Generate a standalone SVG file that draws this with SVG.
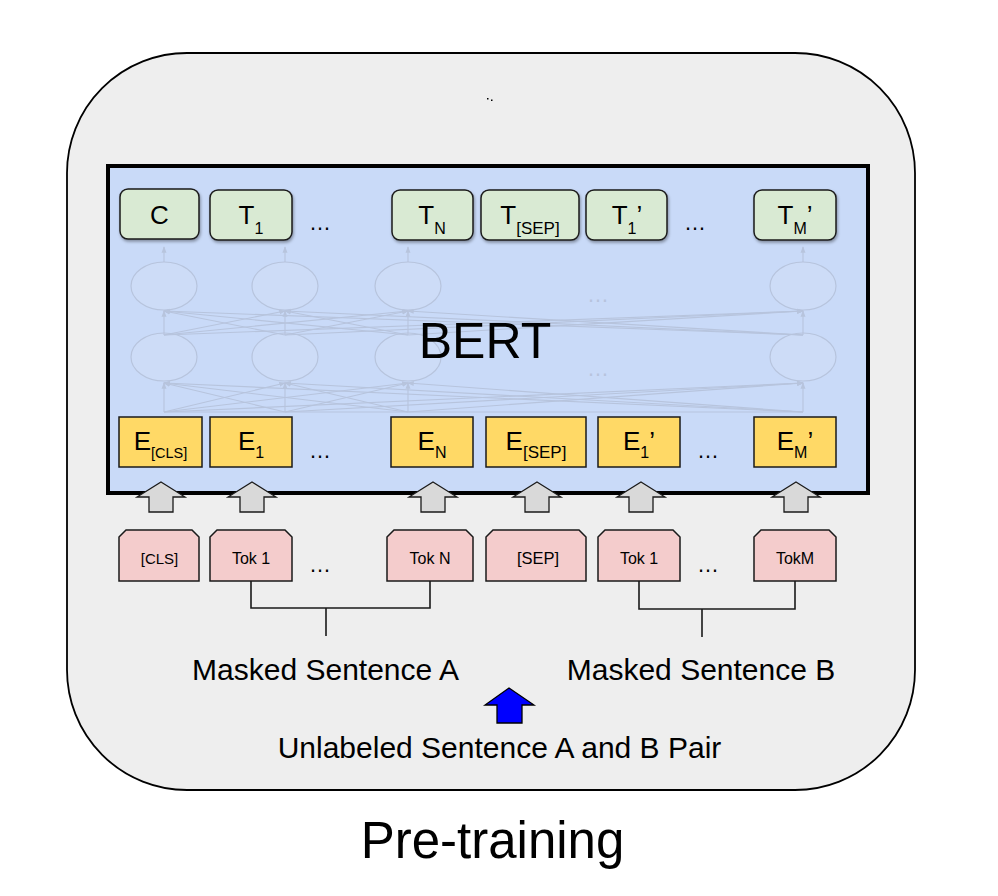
<svg xmlns="http://www.w3.org/2000/svg" width="998" height="896" viewBox="0 0 998 896">
<defs>
<style>
text{font-family:"Liberation Sans",Arial,sans-serif;fill:#000}
.out{fill:#d9ead3;stroke:#1a1a1a;stroke-width:1.5;filter:url(#sh)}
.emb{fill:#ffd966;stroke:#1a1a1a;stroke-width:1.5}
.tok{fill:#f4cccc;stroke:#1a1a1a;stroke-width:1.5}
.lbl{font-size:26px;text-anchor:middle}
.sub{font-size:16px}
.tk{font-size:16px;text-anchor:middle}
.dots{font-size:22px;text-anchor:middle}
.net{fill:none;stroke:#b7c4dd;stroke-width:1.1}
.nod{fill:#cddcf7;stroke:#b7c4dd;stroke-width:1.2}
.garr{fill:#d9d9d9;stroke:#1a1a1a;stroke-width:1.3}
.br{fill:none;stroke:#1a1a1a;stroke-width:1.6}
.big{font-size:30px;text-anchor:middle}
</style>
<filter id="sh" x="-10%" y="-10%" width="130%" height="140%">
<feDropShadow dx="1" dy="2" stdDeviation="1.5" flood-color="#000" flood-opacity="0.35"/>
</filter>
<marker id="na" viewBox="0 0 8 8" refX="7" refY="4" markerWidth="6" markerHeight="6" orient="auto">
<path d="M0,1 L8,4 L0,7 Z" fill="#b7c4dd"/>
</marker>
</defs>

<g id="frame">
<rect x="67" y="53" width="848" height="737" rx="120" ry="120" fill="#eeeeee" stroke="#000" stroke-width="1.8"/>
<rect x="487" y="98" width="1.5" height="1.5" fill="#000"/>
<rect x="491" y="99.5" width="1.5" height="1.5" fill="#000"/>
</g>

<g id="bert">
<rect x="108" y="166" width="760" height="327" fill="#c9daf8" stroke="#000" stroke-width="4"/>
</g>

<g id="network">
<ellipse class="nod" cx="164" cy="286" rx="33" ry="24"/>
<ellipse class="nod" cx="285" cy="286" rx="33" ry="24"/>
<ellipse class="nod" cx="408" cy="286" rx="33" ry="24"/>
<ellipse class="nod" cx="803" cy="286" rx="33" ry="24"/>
<ellipse class="nod" cx="164" cy="357" rx="33" ry="24"/>
<ellipse class="nod" cx="285" cy="357" rx="33" ry="24"/>
<ellipse class="nod" cx="408" cy="357" rx="33" ry="24"/>
<ellipse class="nod" cx="803" cy="357" rx="33" ry="24"/>
<text x="598" y="302" class="dots" style="fill:#b7c4dd">…</text>
<text x="598" y="376" class="dots" style="fill:#b7c4dd">…</text>
</g>

<g id="connectors">
<g class="net" marker-end="url(#na)">
<line x1="164" y1="262" x2="164" y2="247"/>
<line x1="285" y1="262" x2="285" y2="247"/>
<line x1="408" y1="262" x2="408" y2="247"/>
<line x1="803" y1="262" x2="803" y2="247"/>
<line x1="164" y1="335" x2="164" y2="311"/>
<line x1="164" y1="335" x2="285" y2="311"/>
<line x1="164" y1="335" x2="408" y2="311"/>
<line x1="164" y1="335" x2="803" y2="311"/>
<line x1="285" y1="335" x2="164" y2="311"/>
<line x1="285" y1="335" x2="285" y2="311"/>
<line x1="285" y1="335" x2="408" y2="311"/>
<line x1="285" y1="335" x2="803" y2="311"/>
<line x1="408" y1="335" x2="164" y2="311"/>
<line x1="408" y1="335" x2="285" y2="311"/>
<line x1="408" y1="335" x2="408" y2="311"/>
<line x1="408" y1="335" x2="803" y2="311"/>
<line x1="803" y1="335" x2="164" y2="311"/>
<line x1="803" y1="335" x2="285" y2="311"/>
<line x1="803" y1="335" x2="408" y2="311"/>
<line x1="803" y1="335" x2="803" y2="311"/>
<line x1="164" y1="412" x2="164" y2="383"/>
<line x1="164" y1="412" x2="285" y2="383"/>
<line x1="164" y1="412" x2="408" y2="383"/>
<line x1="164" y1="412" x2="803" y2="383"/>
<line x1="285" y1="412" x2="164" y2="383"/>
<line x1="285" y1="412" x2="285" y2="383"/>
<line x1="285" y1="412" x2="408" y2="383"/>
<line x1="285" y1="412" x2="803" y2="383"/>
<line x1="408" y1="412" x2="164" y2="383"/>
<line x1="408" y1="412" x2="285" y2="383"/>
<line x1="408" y1="412" x2="408" y2="383"/>
<line x1="408" y1="412" x2="803" y2="383"/>
<line x1="803" y1="412" x2="164" y2="383"/>
<line x1="803" y1="412" x2="285" y2="383"/>
<line x1="803" y1="412" x2="408" y2="383"/>
<line x1="803" y1="412" x2="803" y2="383"/>
</g>
<line class="net" x1="164" y1="412" x2="803" y2="412"/>
<path class="garr" d="M161,482 L185,497 L173,497 L173,512 L149,512 L149,497 L137,497 Z"/>
<path class="garr" d="M252,482 L276,497 L264,497 L264,512 L240,512 L240,497 L228,497 Z"/>
<path class="garr" d="M433,482 L457,497 L445,497 L445,512 L421,512 L421,497 L409,497 Z"/>
<path class="garr" d="M537,482 L561,497 L549,497 L549,512 L525,512 L525,497 L513,497 Z"/>
<path class="garr" d="M641,482 L665,497 L653,497 L653,512 L629,512 L629,497 L617,497 Z"/>
<path class="garr" d="M796,482 L820,497 L808,497 L808,512 L784,512 L784,497 L772,497 Z"/>
<path class="br" d="M251,581 V608 H430 V581 M326,608 V636"/>
<path class="br" d="M639,581 V609 H795 V581 M702,609 V637"/>
<path d="M509,688 L534,705 L522,705 L522,723 L497,723 L497,705 L485,705 Z" fill="#0000ff" stroke="#000" stroke-width="1.3"/>
</g>

<g id="out-C"><rect class="out" x="120" y="189" width="79" height="50" rx="8"/><text class="lbl" x="159.5" y="224">C</text></g>
<g id="out-T1"><rect class="out" x="210" y="190" width="82" height="50" rx="8"/><text class="lbl" x="251" y="224">T<tspan class="sub" dy="10">1</tspan></text></g>
<text class="dots" x="320" y="230">…</text>
<g id="out-TN"><rect class="out" x="392" y="190" width="81" height="50" rx="8"/><text class="lbl" x="432" y="224">T<tspan class="sub" dy="10">N</tspan></text></g>
<g id="out-TSEP"><rect class="out" x="481" y="190" width="98" height="50" rx="8"/><text class="lbl" x="530" y="224">T<tspan style="font-size:17px" dy="10">[SEP]</tspan></text></g>
<g id="out-T1p"><rect class="out" x="586" y="190" width="81" height="50" rx="8"/><text class="lbl" x="627" y="224">T<tspan class="sub" dy="10">1</tspan><tspan dy="-10">’</tspan></text></g>
<text class="dots" x="695" y="230">…</text>
<g id="out-TMp"><rect class="out" x="754" y="190" width="82" height="50" rx="8"/><text class="lbl" x="795" y="224">T<tspan class="sub" dy="10">M</tspan><tspan dy="-10">’</tspan></text></g>

<text x="485" y="358" style="font-size:50px;text-anchor:middle">BERT</text>

<g id="emb-CLS"><rect class="emb" x="119" y="417" width="83" height="50"/><text class="lbl" x="160.5" y="450">E<tspan style="font-size:14.5px" dy="8">[CLS]</tspan></text></g>
<g id="emb-E1"><rect class="emb" x="210" y="417" width="82" height="50"/><text class="lbl" x="251" y="450">E<tspan class="sub" dy="8">1</tspan></text></g>
<text class="dots" x="320" y="458">…</text>
<g id="emb-EN"><rect class="emb" x="391" y="417" width="82" height="50"/><text class="lbl" x="432" y="450">E<tspan class="sub" dy="8">N</tspan></text></g>
<g id="emb-SEP"><rect class="emb" x="486" y="417" width="100" height="50"/><text class="lbl" x="536" y="450">E<tspan style="font-size:17px" dy="8">[SEP]</tspan></text></g>
<g id="emb-E1p"><rect class="emb" x="598" y="417" width="82" height="50"/><text class="lbl" x="639" y="450">E<tspan class="sub" dy="8">1</tspan><tspan dy="-8">’</tspan></text></g>
<text class="dots" x="708" y="458">…</text>
<g id="emb-EMp"><rect class="emb" x="754" y="417" width="82" height="50"/><text class="lbl" x="795" y="450">E<tspan class="sub" dy="8">M</tspan><tspan dy="-8">’</tspan></text></g>

<g id="tok-CLS"><path class="tok" d="M119,537 L126,530 L192,530 L199,537 L199,581 L119,581 Z"/><text class="tk" x="159.5" y="564" style="font-size:15px">[CLS]</text></g>
<g id="tok-1"><path class="tok" d="M210,537 L217,530 L285,530 L292,537 L292,581 L210,581 Z"/><text class="tk" x="251" y="564">Tok 1</text></g>
<text class="dots" x="320" y="572">…</text>
<g id="tok-N"><path class="tok" d="M387,537 L394,530 L466,530 L473,537 L473,581 L387,581 Z"/><text class="tk" x="430" y="564">Tok N</text></g>
<g id="tok-SEP"><path class="tok" d="M486,537 L493,530 L579,530 L586,537 L586,581 L486,581 Z"/><text class="tk" x="538" y="564" style="font-size:16.5px">[SEP]</text></g>
<g id="tok-1p"><path class="tok" d="M598,537 L605,530 L673,530 L680,537 L680,581 L598,581 Z"/><text class="tk" x="639" y="564">Tok 1</text></g>
<text class="dots" x="708" y="572">…</text>
<g id="tok-M"><path class="tok" d="M754,537 L761,530 L829,530 L836,537 L836,581 L754,581 Z"/><text class="tk" x="795" y="564">TokM</text></g>

<text class="big" x="325.5" y="680">Masked Sentence A</text>
<text class="big" x="701" y="680">Masked Sentence B</text>
<text class="big" x="499.5" y="758">Unlabeled Sentence A and B Pair</text>
<text x="492.5" y="858" style="font-size:51px;text-anchor:middle">Pre-training</text>
</svg>
